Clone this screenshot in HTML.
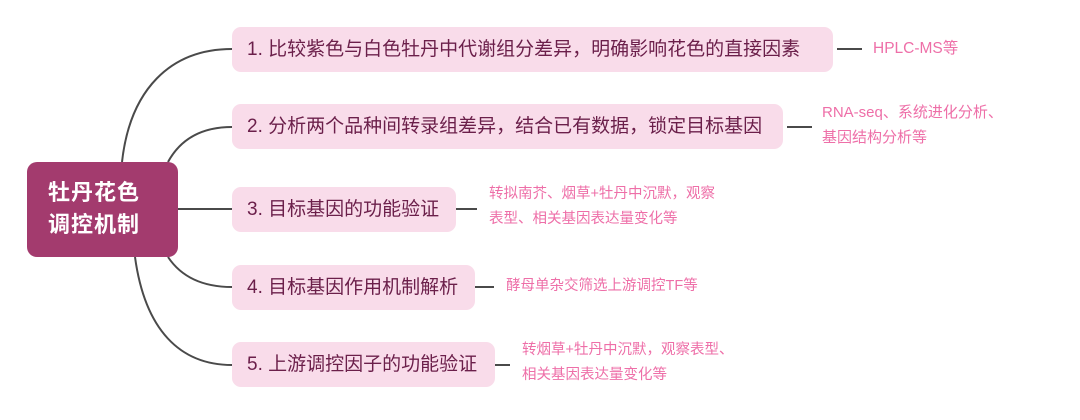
<!DOCTYPE html>
<html><head><meta charset="utf-8"><style>
body{margin:0;width:1080px;height:420px;background:#fff;position:relative;overflow:hidden;font-family:"Liberation Sans","Noto Sans CJK SC",sans-serif}
.b{position:absolute;left:232px;height:45px;background:#f9dcea;border-radius:9px;color:#6b1f4a;font-size:19px;line-height:45px;padding-left:15px;box-sizing:border-box;white-space:nowrap}
.t{position:absolute;color:#ee6fa8;font-size:14.5px;line-height:25px;white-space:nowrap}
.root{position:absolute;left:27px;top:162px;width:151px;height:95px;background:#a33b6e;border-radius:10px;color:#fff;font-weight:bold;font-size:22px;line-height:32px;padding:15px 0 0 21px;box-sizing:border-box;letter-spacing:1px}
svg{position:absolute;left:0;top:0}
</style></head><body>
<svg width="1080" height="420" fill="none" stroke="#4a4a4a" stroke-width="2">
<path d="M122 162 C130 90 170 49 232 49"/>
<path d="M168 162 C180 140 200 127 232 127"/>
<path d="M178 209 H232"/>
<path d="M168 257 C180 275 200 287 232 287"/>
<path d="M135 257 C145 330 180 365 232 365"/>
<path d="M837 49 H862"/>
<path d="M787 127 H812"/>
<path d="M456 209 H477"/>
<path d="M475 287 H494"/>
<path d="M495 365 H510"/>
</svg>
<div class="root">牡丹花色<br>调控机制</div>
<div class="b" style="top:27px;width:601px">1. 比较紫色与白色牡丹中代谢组分差异，明确影响花色的直接因素</div>
<div class="b" style="top:104px;width:551px">2. 分析两个品种间转录组差异，结合已有数据，锁定目标基因</div>
<div class="b" style="top:187px;width:224px">3. 目标基因的功能验证</div>
<div class="b" style="top:265px;width:243px">4. 目标基因作用机制解析</div>
<div class="b" style="top:342px;width:263px">5. 上游调控因子的功能验证</div>
<div class="t" style="left:873px;top:36px;font-size:15.5px">HPLC-MS等</div>
<div class="t" style="left:822px;top:100px;font-size:15px">RNA-seq、系统进化分析、<br>基因结构分析等</div>
<div class="t" style="left:489px;top:182px">转拟南芥、烟草+牡丹中沉默，观察<br>表型、相关基因表达量变化等</div>
<div class="t" style="left:506px;top:274px">酵母单杂交筛选上游调控TF等</div>
<div class="t" style="left:522px;top:338px">转烟草+牡丹中沉默，观察表型、<br>相关基因表达量变化等</div>
</body></html>
